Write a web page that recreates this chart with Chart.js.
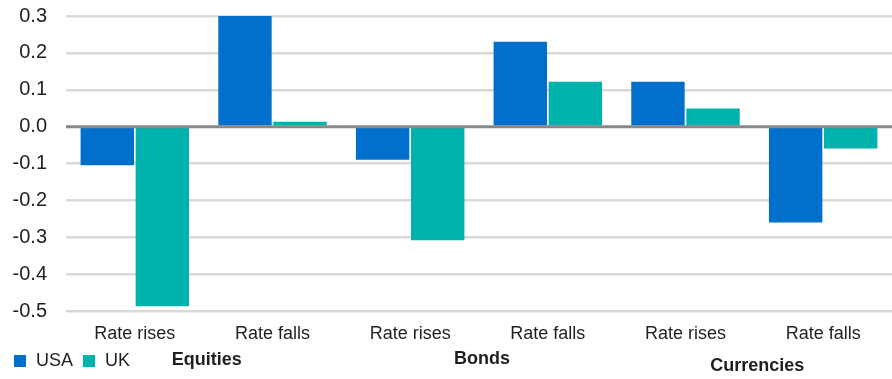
<!DOCTYPE html>
<html>
<head>
<meta charset="utf-8">
<script src="https://cdn.jsdelivr.net/npm/chart.js@4/dist/chart.umd.min.js"></script>
<style>
  html, body { margin: 0; padding: 0; background: #fff; }
  #wrap { width: 892px; height: 379px; position: relative; }
</style>
</head>
<body>
<div id="wrap"><canvas id="chart"></canvas></div>
<script>
const categories = ["Rate rises", "Rate falls", "Rate rises", "Rate falls", "Rate rises", "Rate falls"];
const groups = ["Equities", "Bonds", "Currencies"];
const usaValues = [-0.105, 0.305, -0.09, 0.23, 0.122, -0.26];
const ukValues = [-0.487, 0.013, -0.308, 0.122, 0.049, -0.059];
const yTicks = [0.3, 0.2, 0.1, 0.0, -0.1, -0.2, -0.3, -0.4, -0.5];

const FONT = "'Liberation Sans', Arial, Helvetica, sans-serif";
const TEXT = "#1f1f1f";

// zero line on top of the bars, plus legend and group names under the axis
const extras = {
  id: "extras",
  afterDatasetsDraw(chart) {
    const { ctx, chartArea, scales } = chart;
    const y0 = scales.y.getPixelForValue(0);
    ctx.save();
    ctx.strokeStyle = "#888888";
    ctx.lineWidth = 3;
    ctx.beginPath();
    ctx.moveTo(chartArea.left, y0);
    ctx.lineTo(chartArea.right, y0);
    ctx.stroke();
    ctx.restore();
  },
  afterDraw(chart) {
    const { ctx, scales } = chart;
    ctx.save();
    ctx.textBaseline = "middle";

    // legend
    let x = 14;
    const ly = 361;
    ctx.font = "18px " + FONT;
    chart.data.datasets.forEach((ds) => {
      ctx.fillStyle = ds.backgroundColor;
      ctx.fillRect(x, ly - 6, 12, 12);
      x += 22;
      ctx.fillStyle = TEXT;
      ctx.textAlign = "left";
      ctx.fillText(ds.label, x, ly);
      x += ctx.measureText(ds.label).width + 10;
    });

    // group names centred under each pair of categories
    ctx.font = "bold 18px " + FONT;
    ctx.textAlign = "center";
    const dy = [360, 359, 366];
    groups.forEach((g, i) => {
      const cx = (scales.x.getPixelForValue(i * 2) + scales.x.getPixelForValue(i * 2 + 1)) / 2 + 3;
      ctx.fillText(g, cx, dy[i]);
    });
    ctx.restore();
  }
};

new Chart(document.getElementById("chart"), {
  type: "bar",
  data: {
    labels: categories,
    datasets: [
      { label: "USA", data: usaValues, backgroundColor: "#0070CC" },
      { label: "UK", data: ukValues, backgroundColor: "#00B2AC" }
    ]
  },
  options: {
    responsive: true,
    maintainAspectRatio: false,
    animation: false,
    categoryPercentage: 0.8,
    barPercentage: 0.97,
    layout: { padding: { top: 16, right: 0, left: 0, bottom: 0 } },
    plugins: {
      legend: { display: false },
      tooltip: { enabled: false }
    },
    scales: {
      x: {
        grid: { display: false, drawTicks: false },
        border: { display: false },
        ticks: {
          color: TEXT,
          font: { family: FONT, size: 18 },
          padding: 12,
          maxRotation: 0
        },
        afterFit: (scale) => {
          scale.height = 68;
          scale.paddingTop = 0;
          scale.paddingBottom = 0;
        }
      },
      y: {
        min: -0.5,
        max: 0.3,
        afterBuildTicks: (scale) => {
          scale.ticks = yTicks.map((v) => ({ value: v }));
        },
        grid: {
          drawTicks: false,
          color: (c) => (c.tick && Math.abs(c.tick.value) < 1e-9 ? "rgba(0,0,0,0)" : "#d9d9d9"),
          lineWidth: 2.5
        },
        border: { display: false },
        ticks: {
          color: TEXT,
          font: { family: FONT, size: 20 },
          padding: 19,
          callback: (v) => Number(v).toFixed(1)
        },
        afterFit: (scale) => {
          scale.width = 66;
          scale.paddingTop = 0;
          scale.paddingBottom = 0;
        }
      }
    }
  },
  plugins: [extras]
});
</script>
</body>
</html>
